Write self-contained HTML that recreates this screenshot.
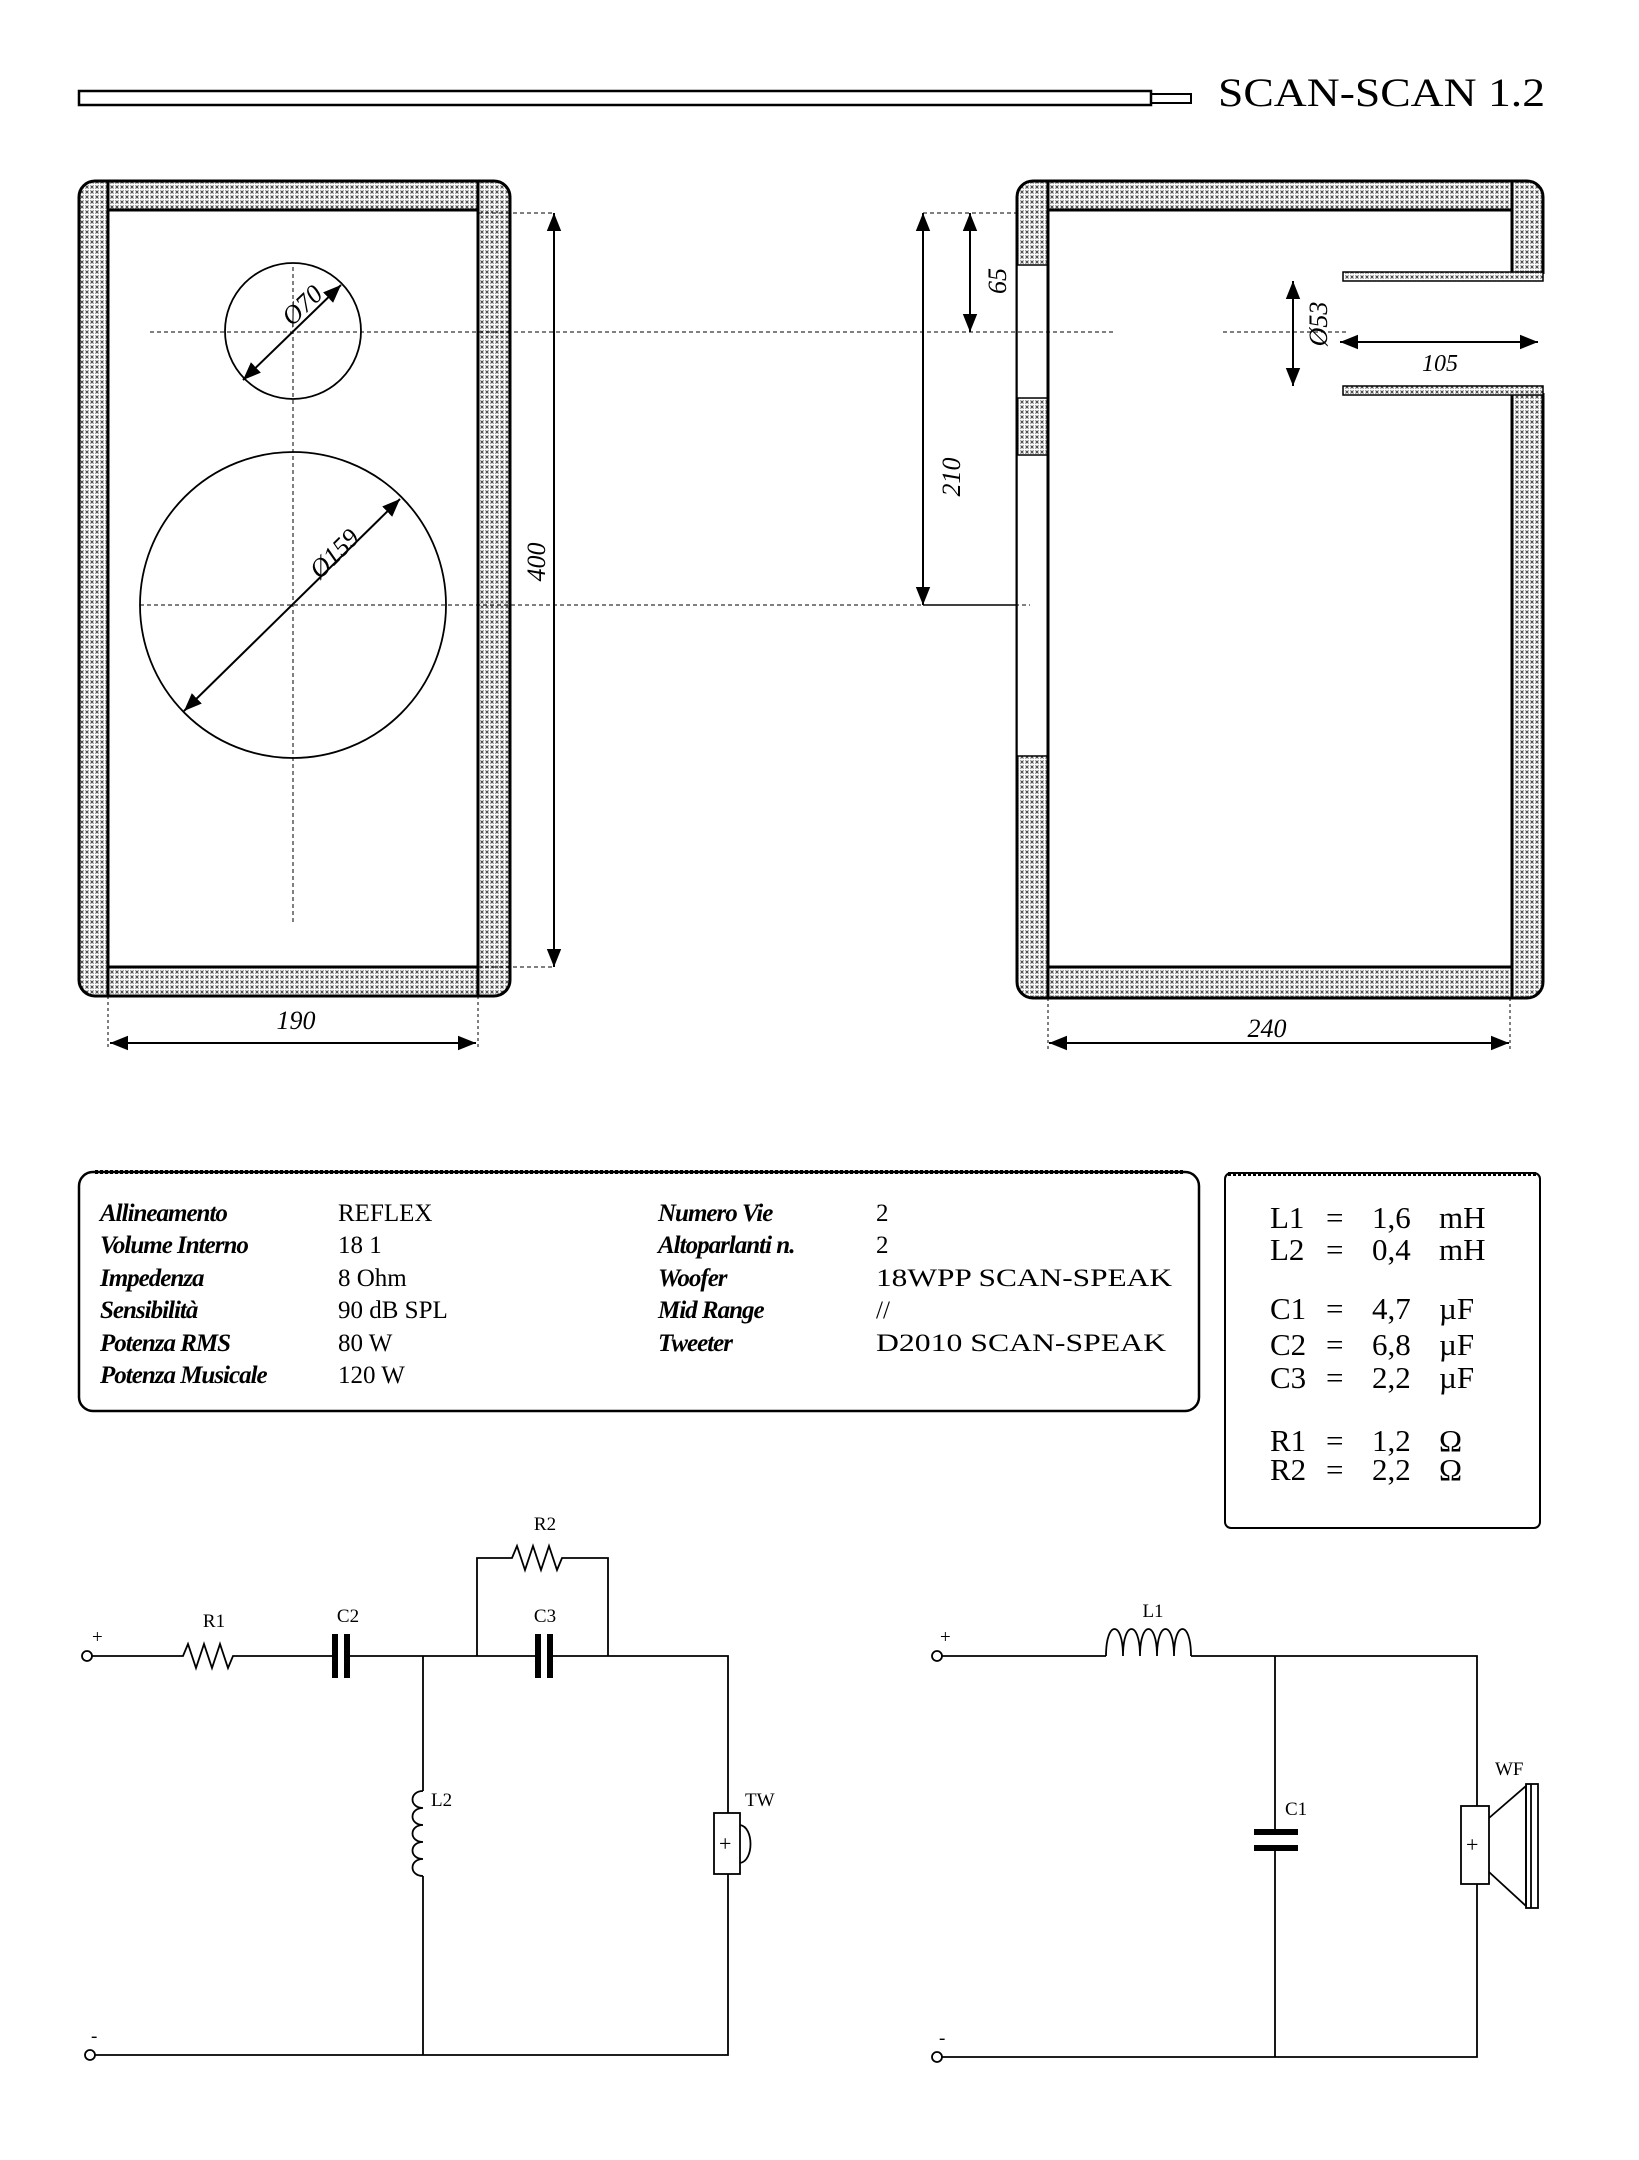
<!DOCTYPE html>
<html><head><meta charset="utf-8">
<style>html,body{margin:0;padding:0;background:#fff}svg{display:block}</style>
</head><body>
<svg width="1639" height="2160" viewBox="0 0 1639 2160" xmlns="http://www.w3.org/2000/svg" font-family="Liberation Serif, serif">
<defs>
<pattern id="h" width="5" height="5" patternUnits="userSpaceOnUse">
<rect width="5" height="5" fill="#fff"/>
<path d="M0.5 0.5 L3.5 3.5 M3.5 0.5 L0.5 3.5" stroke="#444" stroke-width="1"/>
</pattern>
<marker id="a" viewBox="0 0 10 10" refX="10" refY="5" markerWidth="9" markerHeight="9" orient="auto-start-reverse"><path d="M0 1 L10 5 L0 9 Z" fill="#000"/></marker>
</defs>
<g fill="none" stroke="#000">
<rect x="79" y="91" width="1072" height="14" stroke-width="2.5"/>
<path d="M1151 94 H1191 V103 H1151" stroke-width="2"/>
</g>
<text x="1218" y="106" font-size="40" textLength="327" lengthAdjust="spacingAndGlyphs">SCAN-SCAN  1.2</text>

<!-- front panel -->
<g stroke="#000">
<rect x="79" y="181" width="431" height="815" rx="16" fill="url(#h)" stroke-width="3"/>
<rect x="108" y="210" width="370" height="757" fill="#fff" stroke-width="3"/>
<path d="M108 181 V996 M478 181 V996" stroke-width="3"/>
</g>

<!-- side panel -->
<g stroke="#000" stroke-width="3">
<rect x="1017" y="181" width="526" height="817" rx="16" fill="url(#h)"/>
<rect x="1048" y="210" width="464" height="757" fill="#fff"/>
<rect x="1017" y="265" width="31" height="133" fill="#fff" stroke-width="1.5"/>
<rect x="1017" y="455" width="31" height="301" fill="#fff" stroke-width="1.5"/>
<rect x="1509" y="274" width="36" height="119" fill="#fff" stroke="none"/>
<path d="M1048 181 V998 M1512 181 V274 M1512 393 V998" fill="none"/>
<path d="M1512 274 H1543 M1512 393 H1543" stroke-width="1.5"/>
</g>
<rect x="1343" y="272" width="200" height="9" fill="url(#h)" stroke="#000" stroke-width="1.5"/>
<rect x="1343" y="386" width="200" height="9" fill="url(#h)" stroke="#000" stroke-width="1.5"/>

<g fill="none" stroke="#000" stroke-width="1" stroke-dasharray="4 3">
<path d="M150 332 H1115 M1223 332 H1348"/>
<path d="M140 605 H1030"/>
<path d="M293 267 V922"/>
<path d="M478 213 H555 M478 967 H555 M923 213 H1017"/>
</g>
<g fill="none" stroke="#000" stroke-width="1.8">
<circle cx="293" cy="331" r="68"/>
<circle cx="293" cy="605" r="153"/>
</g>
<g fill="none" stroke="#000" stroke-width="2" marker-start="url(#a)" marker-end="url(#a)">
<line x1="243" y1="380" x2="341" y2="285"/>
<line x1="184" y1="711" x2="400" y2="499"/>
<line x1="554" y1="213" x2="554" y2="967"/>
<line x1="110" y1="1043" x2="476" y2="1043"/>
<line x1="970" y1="213" x2="970" y2="332"/>
<line x1="923" y1="213" x2="923" y2="605"/>
<line x1="1293" y1="281" x2="1293" y2="386"/>
<line x1="1340" y1="342" x2="1538" y2="342"/>
<line x1="1049" y1="1043" x2="1509" y2="1043"/>
</g>
<g stroke="#000" stroke-width="1" stroke-dasharray="3 3">
<path d="M108 996 V1050 M478 996 V1050 M1048 998 V1050 M1510 998 V1050"/>
</g>
<g font-style="italic" font-size="26">
<text transform="translate(292 327) rotate(-44)">Ø70</text>
<text transform="translate(320 580) rotate(-45)">Ø159</text>
<text transform="translate(545 562) rotate(-90)" text-anchor="middle">400</text>
<text x="296" y="1029" text-anchor="middle">190</text>
<text transform="translate(1006 281) rotate(-90)" text-anchor="middle">65</text>
<text transform="translate(960 477) rotate(-90)" text-anchor="middle">210</text>
<text transform="translate(1327 324) rotate(-90)" text-anchor="middle">Ø53</text>
<text x="1440" y="371" text-anchor="middle" font-size="24">105</text>
<text x="1267" y="1037" text-anchor="middle">240</text>
</g>
<line x1="923" y1="605" x2="1017" y2="605" stroke="#000" stroke-width="1.5"/>

<!-- spec box -->
<rect x="79" y="1172" width="1120" height="239" rx="14" fill="none" stroke="#000" stroke-width="2.5"/>
<path d="M95 1172 H1185" stroke="#000" stroke-width="4" stroke-dasharray="3 2"/>
<g font-size="25">
<g font-style="italic" font-weight="bold" letter-spacing="-1">
<text x="100" y="1221">Allineamento</text>
<text x="100" y="1253">Volume Interno</text>
<text x="100" y="1286">Impedenza</text>
<text x="100" y="1318">Sensibilità</text>
<text x="100" y="1351">Potenza RMS</text>
<text x="100" y="1383">Potenza Musicale</text>
<text x="658" y="1221">Numero Vie</text>
<text x="658" y="1253">Altoparlanti n.</text>
<text x="658" y="1286">Woofer</text>
<text x="658" y="1318">Mid Range</text>
<text x="658" y="1351">Tweeter</text>
</g>
<text x="338" y="1221">REFLEX</text>
<text x="338" y="1253">18 1</text>
<text x="338" y="1286">8 Ohm</text>
<text x="338" y="1318">90 dB SPL</text>
<text x="338" y="1351">80 W</text>
<text x="338" y="1383">120 W</text>
<text x="876" y="1221">2</text>
<text x="876" y="1253">2</text>
<text x="876" y="1286" textLength="296" lengthAdjust="spacingAndGlyphs">18WPP SCAN-SPEAK</text>
<text x="876" y="1318">//</text>
<text x="876" y="1351" textLength="290" lengthAdjust="spacingAndGlyphs">D2010 SCAN-SPEAK</text>
</g>

<!-- values box -->
<rect x="1225" y="1173" width="315" height="355" rx="6" fill="none" stroke="#000" stroke-width="2"/>
<path d="M1228 1174 H1538" stroke="#000" stroke-width="4" stroke-dasharray="3 2"/>
<g font-size="31">
<text x="1270" y="1228">L1</text><text x="1326" y="1228">=</text><text x="1372" y="1228">1,6</text><text x="1439" y="1228">mH</text>
<text x="1270" y="1260">L2</text><text x="1326" y="1260">=</text><text x="1372" y="1260">0,4</text><text x="1439" y="1260">mH</text>
<text x="1270" y="1319">C1</text><text x="1326" y="1319">=</text><text x="1372" y="1319">4,7</text><text x="1439" y="1319">µF</text>
<text x="1270" y="1355">C2</text><text x="1326" y="1355">=</text><text x="1372" y="1355">6,8</text><text x="1439" y="1355">µF</text>
<text x="1270" y="1388">C3</text><text x="1326" y="1388">=</text><text x="1372" y="1388">2,2</text><text x="1439" y="1388">µF</text>
<text x="1270" y="1451">R1</text><text x="1326" y="1451">=</text><text x="1372" y="1451">1,2</text><text x="1439" y="1451">Ω</text>
<text x="1270" y="1480">R2</text><text x="1326" y="1480">=</text><text x="1372" y="1480">2,2</text><text x="1439" y="1480">Ω</text>
</g>

<!-- left circuit -->
<g fill="none" stroke="#000" stroke-width="1.8">
<circle cx="87" cy="1656" r="5"/>
<circle cx="90" cy="2055" r="5"/>
<path d="M92 1656 H183 l5 -12 l8 24 l8 -24 l8 24 l8 -24 l8 24 l5 -12 H332 M350 1656 H535 M552 1656 H728 V1813"/>
<path d="M477 1656 V1558 H512 l5 -12 l8 24 l8 -24 l8 24 l8 -24 l8 24 l5 -12 H608 V1656"/>
<path d="M423 1656 V1791 M423 1876 V2055 M95 2055 H728 V1874"/>
<path d="M423 1791 c-14 0 -14 17 0 17 c-14 0 -14 17 0 17 c-14 0 -14 17 0 17 c-14 0 -14 17 0 17 c-14 0 -14 17 0 17"/>
<rect x="714" y="1813" width="26" height="61"/>
<path d="M740 1825 c14 2 14 36 0 38"/>
</g>
<g stroke="#000" stroke-width="6">
<path d="M335 1634 V1678 M347 1634 V1678 M538 1634 V1678 M550 1634 V1678"/>
</g>
<g font-size="19">
<text x="92" y="1643">+</text><text x="91" y="2042">-</text>
<text x="214" y="1627" text-anchor="middle">R1</text>
<text x="348" y="1622" text-anchor="middle">C2</text>
<text x="545" y="1530" text-anchor="middle">R2</text>
<text x="545" y="1622" text-anchor="middle">C3</text>
<text x="431" y="1806">L2</text>
<text x="745" y="1806">TW</text>
<text x="719" y="1851" font-size="22">+</text>
</g>

<!-- right circuit -->
<g fill="none" stroke="#000" stroke-width="1.8">
<circle cx="937" cy="1656" r="5"/>
<circle cx="937" cy="2057" r="5"/>
<path d="M942 1656 H1106 M1191 1656 H1477 V1806 M1477 1884 V2057 H942 M1275 1656 V1832 M1275 1848 V2057"/>
<path d="M1106 1656 c0 -36 17 -36 17 0 c0 -36 17 -36 17 0 c0 -36 17 -36 17 0 c0 -36 17 -36 17 0 c0 -36 17 -36 17 0"/>
<rect x="1461" y="1806" width="28" height="78"/>
<path d="M1489 1818 L1526 1786 V1906 L1489 1872"/>
<rect x="1526" y="1784" width="12" height="124"/>
<path d="M1531 1784 V1908"/>
</g>
<g stroke="#000" stroke-width="6"><path d="M1254 1832 H1298 M1254 1848 H1298"/></g>
<g font-size="19">
<text x="940" y="1643">+</text><text x="939" y="2044">-</text>
<text x="1153" y="1617" text-anchor="middle">L1</text>
<text x="1285" y="1815">C1</text>
<text x="1495" y="1775">WF</text>
<text x="1466" y="1852" font-size="22">+</text>
</g>
</svg>
</body></html>
